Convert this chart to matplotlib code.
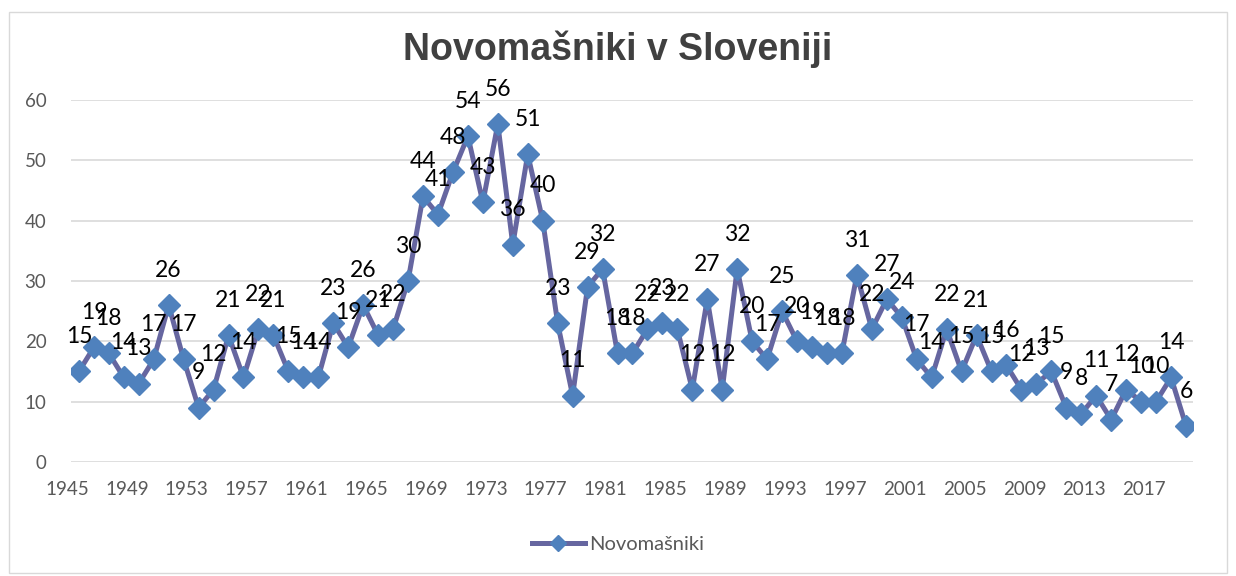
import matplotlib
matplotlib.use("Agg")
import matplotlib.pyplot as plt
import matplotlib.transforms as mtransforms
from matplotlib.patches import Rectangle

# podatki - novomasniki po letih
years = list(range(1945, 2020))
novomasniki = [15, 19, 18, 14, 13, 17, 26, 17, 9, 12,
               21, 14, 22, 21, 15, 14, 14, 23, 19, 26,
               21, 22, 30, 44, 41, 48, 54, 43, 56, 36,
               51, 40, 23, 11, 29, 32, 18, 18, 22, 23,
               22, 12, 27, 12, 32, 20, 17, 25, 20, 19,
               18, 18, 31, 22, 27, 24, 17, 14, 22, 15,
               21, 15, 16, 12, 13, 15, 9, 8, 11, 7,
               12, 10, 10, 14, 6]
tick_years = years[::4]
y_ticks = [0, 10, 20, 30, 40, 50, 60]

title = "Novomašniki v Sloveniji"
series_name = "Novomašniki"

LINE_COL = "#6666a0"
MARK_COL = "#4f81bd"
GRID_COL = "#d9d9d9"
TXT_COL = "#595959"

fig = plt.figure(figsize=(12.36, 5.76), dpi=100)
fig.patches.append(Rectangle((0.007, 0.005), 0.986, 0.975, transform=fig.transFigure,
                             fill=False, edgecolor=GRID_COL, linewidth=1.0))
ax = fig.add_axes([0.0578, 0.198, 0.9078, 0.6286])

ax.plot(years, novomasniki, color=LINE_COL, linewidth=3.6, marker="D",
        markersize=11, markerfacecolor=MARK_COL, markeredgecolor=MARK_COL,
        label=series_name, zorder=3)

for x, v in zip(years, novomasniki):
    ax.annotate(str(v), (x, v), xytext=(0, 25), textcoords="offset points",
                ha="center", va="center", fontsize=16.5, family="Lato",
                color="black", zorder=4)

ax.set_xlim(1944.5, 2019.5)
ax.set_ylim(0, 60)
ax.set_yticks(y_ticks)
ax.set_xticks(tick_years)
ax.set_xticklabels([str(y) for y in tick_years])
ax.grid(axis="y", color=GRID_COL, linewidth=1.2)
ax.set_axisbelow(True)
for s in ax.spines.values():
    s.set_visible(False)
ax.tick_params(axis="both", length=0, labelsize=13.5, labelcolor=TXT_COL)
ax.tick_params(axis="y", pad=18)
ax.tick_params(axis="x", pad=14)
for lbl in ax.get_xticklabels() + ax.get_yticklabels():
    lbl.set_family("Lato")

# excel zamakne letnice malo v levo
off = mtransforms.ScaledTranslation(-0.12, 0, fig.dpi_scale_trans)
for lbl in ax.get_xticklabels():
    lbl.set_transform(lbl.get_transform() + off)

fig.text(0.5, 0.915, title, ha="center", va="center", fontsize=27,
         fontweight="bold", family="Liberation Sans", color="#404040")

leg = fig.legend(loc="center", bbox_to_anchor=(0.5, 0.054), frameon=False,
                 prop={"family": "Lato", "size": 14.5}, handlelength=2.6,
                 handletextpad=0.2, markerscale=0.7)
for t in leg.get_texts():
    t.set_color(TXT_COL)

fig.savefig("out.png", dpi=100)
